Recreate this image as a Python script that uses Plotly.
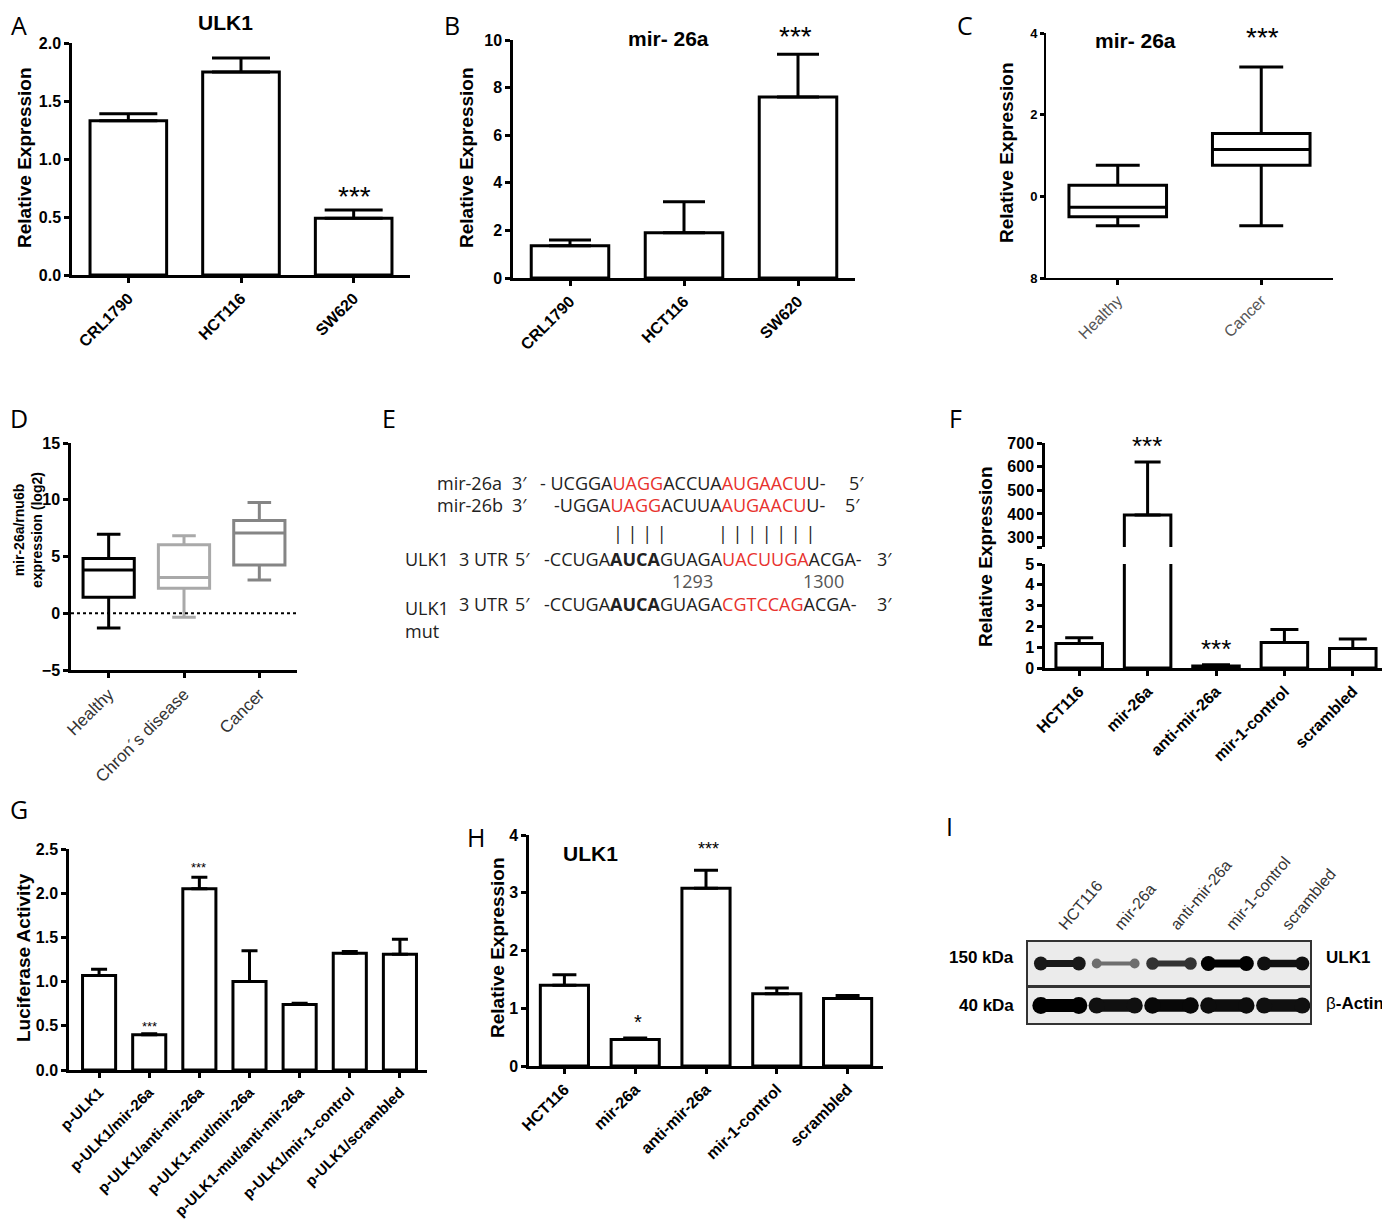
import plotly.graph_objects as go

W, H = 1390, 1228
OFF = 8  # page body margin around the figure

# A: ULK1 in cell lines
a_cats = ["CRL1790", "HCT116", "SW620"]
a_vals = [1.33, 1.75, 0.49]
a_err = [0.06, 0.12, 0.07]

# B: mir-26a in cell lines
b_cats = ["CRL1790", "HCT116", "SW620"]
b_vals = [1.35, 1.9, 7.6]
b_err = [0.25, 1.3, 1.8]

# C: mir-26a, healthy vs cancer (box)
c_groups = ["Healthy", "Cancer"]
c_low = [-0.72, -0.72]
c_q1 = [-0.5, 0.76]
c_med = [-0.27, 1.15]
c_q3 = [0.27, 1.54]
c_high = [0.76, 3.17]

# D: mir-26a/rnu6b (log2)
d_groups = ["Healthy", "Chron´s disease", "Cancer"]
d_low = [-1.3, -0.35, 2.94]
d_q1 = [1.4, 2.2, 4.26]
d_med = [3.82, 3.15, 7.06]
d_q3 = [4.82, 6.03, 8.18]
d_high = [6.97, 6.82, 9.76]
d_colors = ["#000000", "#a9a9a9", "#858585"]

# F: mir-26a expression after transfection
f_cats = ["HCT116", "mir-26a", "anti-mir-26a", "mir-1-control", "scrambled"]
f_vals = [1.18, 395, 0.1, 1.23, 0.94]
f_err = [0.27, 225, 0.06, 0.62, 0.46]

# G: luciferase activity
g_cats = ["p-ULK1", "p-ULK1/mir-26a", "p-ULK1/anti-mir-26a", "p-ULK1-mut/mir-26a",
          "p-ULK1-mut/anti-mir-26a", "p-ULK1/mir-1-control", "p-ULK1/scrambled"]
g_vals = [1.07, 0.40, 2.05, 1.0, 0.74, 1.32, 1.31]
g_err = [0.07, 0.01, 0.13, 0.35, 0.015, 0.02, 0.17]

# H: ULK1 expression after transfection
h_cats = ["HCT116", "mir-26a", "anti-mir-26a", "mir-1-control", "scrambled"]
h_vals = [1.40, 0.46, 3.08, 1.25, 1.17]
h_err = [0.18, 0.025, 0.31, 0.10, 0.05]

# I: western blot band strength per lane
i_lanes = ["HCT116", "mir-26a", "anti-mir-26a", "mir-1-control", "scrambled"]
i_ulk1 = [0.85, 0.35, 0.7, 1.0, 0.9]
i_actin = [1.0, 0.9, 0.95, 0.92, 0.9]

RED = "#e8322e"


def xdom(a, b):
    return [(a - OFF) / W, (b - OFF) / W]


def ydom(top, bot):
    return [1 - (bot - OFF) / H, 1 - (top - OFF) / H]


def note(x, y, text, size=14, bold=False, color="black", family=None, angle=0,
         xanchor="center", yanchor="middle"):
    f = dict(size=size, color=color)
    if bold:
        f["weight"] = "bold"
    if family:
        f["family"] = family
    return dict(x=(x - OFF) / W, y=1 - (y - OFF) / H, xref="paper", yref="paper",
                text=text, showarrow=False, font=f, textangle=angle,
                xanchor=xanchor, yanchor=yanchor)


BOLD = dict(size=16, weight="bold", color="black")


def ax(domain, anchor, **kw):
    d = dict(domain=domain, anchor=anchor, showline=True, linecolor="black",
             linewidth=2.5, ticks="outside", ticklen=5, tickwidth=2.5,
             tickcolor="black", showgrid=False, zeroline=False, automargin=False,
             tickfont=BOLD, fixedrange=True)
    d.update(kw)
    return d


def bars(cats, vals, err, n, cap, width=0.68):
    return go.Bar(x=cats, y=vals, xaxis="x" + n, yaxis="y" + n, width=width,
                  marker=dict(color="white", line=dict(color="black", width=3)),
                  error_y=dict(type="data", symmetric=False, array=err,
                               arrayminus=[0] * len(err), color="black",
                               thickness=3, width=cap),
                  showlegend=False)


fig = go.Figure()
fig.add_trace(bars(a_cats, a_vals, a_err, "", 29))
fig.add_trace(bars(b_cats, b_vals, b_err, "2", 21))

fig.add_trace(go.Box(x=c_groups, q1=c_q1, median=c_med, q3=c_q3,
                     lowerfence=c_low, upperfence=c_high, xaxis="x3", yaxis="y3",
                     width=0.68, whiskerwidth=0.45, fillcolor="white",
                     line=dict(color="black", width=3), boxpoints=False,
                     showlegend=False))

for grp, lo, q1, med, q3, hi, col in zip(d_groups, d_low, d_q1, d_med, d_q3, d_high, d_colors):
    fig.add_trace(go.Box(x=[grp], q1=[q1], median=[med], q3=[q3],
                         lowerfence=[lo], upperfence=[hi], xaxis="x4", yaxis="y4",
                         width=0.68, whiskerwidth=0.46, fillcolor="white",
                         line=dict(color=col, width=3), boxpoints=False,
                         showlegend=False))

# broken axis: same bars drawn in both segments
fig.add_trace(bars(f_cats, f_vals, f_err, "5", 13))
fig.add_trace(bars(f_cats, f_vals, f_err, "6", 14))

fig.add_trace(bars(g_cats, g_vals, g_err, "7", 8, width=0.66))
fig.add_trace(bars(h_cats, h_vals, h_err, "8", 12))


def band_color(v):
    g = int(170 * (1 - v))
    return f"rgb({g},{g},{g})"


for row, (vals, n) in enumerate([(i_ulk1, "9"), (i_actin, "10")]):
    for i, v in enumerate(vals):
        fig.add_trace(go.Scatter(x=[i - 0.34, i + 0.34], y=[0, 0],
                                 xaxis="x" + n, yaxis="y" + n, mode="lines+markers",
                                 line=dict(color=band_color(v), width=2 + 6 * v + 5 * row),
                                 marker=dict(color=band_color(v), size=7 + 8 * v + 2 * row),
                                 hoverinfo="skip", showlegend=False))

layout = dict(
    width=W, height=H, margin=dict(l=0, r=0, t=0, b=0),
    paper_bgcolor="white", plot_bgcolor="white", showlegend=False,
    font=dict(family="Liberation Sans, Arial, sans-serif", color="black"),
)

layout["xaxis"] = ax(xdom(72, 410), "y", type="category", range=[-0.5, 2.5], tickangle=-45)
layout["yaxis"] = ax(ydom(43, 275), "x", range=[0, 2.0], dtick=0.5, tickformat=".1f")

layout["xaxis2"] = ax(xdom(513, 855), "y2", type="category", range=[-0.5, 2.5], tickangle=-45)
layout["yaxis2"] = ax(ydom(40, 278), "x2", range=[0, 10], dtick=2)

layout["xaxis3"] = ax(xdom(1046, 1333), "y3", type="category", range=[-0.5, 1.5],
                      tickangle=-45, linewidth=2, tickfont=dict(size=16, color="#555"))
layout["yaxis3"] = ax(ydom(33, 278), "x3", range=[-2, 4], tickvals=[-2, 0, 2, 4],
                      ticktext=["8", "0", "2", "4"], linewidth=2, ticklen=4,
                      tickfont=dict(size=13, weight="bold", color="black"))

layout["xaxis4"] = ax(xdom(71, 297), "y4", type="category", range=[-0.5, 2.5],
                      tickangle=-45, tickfont=dict(size=17, color="#333"))
layout["yaxis4"] = ax(ydom(443, 670), "x4", range=[-5, 15], dtick=5)

layout["xaxis5"] = ax(xdom(1045, 1387), "y5", type="category", range=[-0.5, 4.5],
                      showline=False, ticks="", showticklabels=False)
layout["yaxis5"] = ax(ydom(443, 547), "x5", range=[260, 700],
                      tickvals=[260, 300, 400, 500, 600, 700],
                      ticktext=["", "300", "400", "500", "600", "700"])
layout["xaxis6"] = ax(xdom(1045, 1387), "y6", type="category", range=[-0.5, 4.5], tickangle=-45)
layout["yaxis6"] = ax(ydom(564, 668), "x6", range=[0, 5], dtick=1)

layout["xaxis7"] = ax(xdom(69, 427), "y7", type="category", range=[-0.6, 6.54], tickangle=-45,
                      tickfont=dict(size=15, weight="bold", color="black"))
layout["yaxis7"] = ax(ydom(849, 1070), "x7", range=[0, 2.5], dtick=0.5, tickformat=".1f")

layout["xaxis8"] = ax(xdom(529, 883), "y8", type="category", range=[-0.5, 4.5], tickangle=-45)
layout["yaxis8"] = ax(ydom(835, 1066), "x8", range=[0, 4], dtick=1)

blot = dict(ticks="", linewidth=1.5, linecolor="#333", mirror=True, range=[-0.57, 4.48])
layout["xaxis9"] = ax(xdom(1028, 1310), "y9", side="top", tickvals=list(range(len(i_lanes))),
                      ticktext=i_lanes, tickangle=-50,
                      tickfont=dict(size=16, color="#333"), **blot)
layout["yaxis9"] = ax(ydom(942, 985), "x9", range=[-1, 1], showticklabels=False,
                      ticks="", linewidth=1.5, linecolor="#333", mirror=True)
layout["xaxis10"] = ax(xdom(1028, 1310), "y10", showticklabels=False, **blot)
layout["yaxis10"] = ax(ydom(988, 1023), "x10", range=[-1, 1], showticklabels=False,
                       ticks="", linewidth=1.5, linecolor="#333", mirror=True)

layout["shapes"] = [
    dict(type="line", xref="x4 domain", yref="y4", x0=0, x1=1, y0=0, y1=0,
         line=dict(color="black", width=2, dash="dot")),
    dict(type="rect", xref="x9 domain", yref="y9 domain", x0=0, x1=1, y0=0, y1=1,
         fillcolor="#ebebeb", line_width=0, layer="below"),
    dict(type="rect", xref="x10 domain", yref="y10 domain", x0=0, x1=1, y0=0, y1=1,
         fillcolor="#ebebeb", line_width=0, layer="below"),
]

LETTER = "Open Sans, sans-serif"
anns = []
for letter, x, y in [("A", 19, 25), ("B", 452, 25), ("C", 965, 25), ("D", 19, 418),
                     ("E", 389, 418), ("F", 955, 418), ("G", 19, 809), ("H", 476, 837),
                     ("I", 949, 826)]:
    anns.append(note(x, y, letter, size=25, family=LETTER))

# titles
anns.append(note(225, 22, "ULK1", size=21, bold=True))
anns.append(note(668, 38, "mir- 26a", size=21, bold=True))
anns.append(note(1135, 40, "mir- 26a", size=21, bold=True))
anns.append(note(590, 853, "ULK1", size=21, bold=True))

# y titles
anns.append(note(24, 158, "Relative Expression", size=19, bold=True, angle=-90))
anns.append(note(466, 158, "Relative Expression", size=19, bold=True, angle=-90))
anns.append(note(1007, 153, "Relative Expression", size=19, bold=True, angle=-90))
anns.append(note(28, 530, "mir-26a/rnu6b<br>expression (log2)", size=14, bold=True, angle=-90))
anns.append(note(985, 557, "Relative Expression", size=19, bold=True, angle=-90))
anns.append(note(23, 958, "Luciferase Activity", size=19, bold=True, angle=-90))
anns.append(note(497, 948, "Relative Expression", size=19, bold=True, angle=-90))

# significance stars
anns.append(note(354, 197, "***", size=28))
anns.append(note(795, 36, "***", size=28))
anns.append(note(1262, 37, "***", size=28))
anns.append(note(1147, 446, "***", size=26))
anns.append(note(1216, 649, "***", size=26))
anns.append(note(149, 1026, "***", size=13))
anns.append(note(199, 867, "***", size=13))
anns.append(note(638, 1022, "*", size=20))
anns.append(note(708, 849, "***", size=18))

# E: sequence alignment
SEQ = "Open Sans, sans-serif"
r = lambda s: f"<span style='color:{RED}'>{s}</span>"
seq_kw = dict(size=18, family=SEQ, color="#222", xanchor="left")
anns.append(note(435, 483, "mir-26a", **seq_kw))
anns.append(note(510, 483, "3′", **seq_kw))
anns.append(note(538, 483, "- UCGGA" + r("UAGG") + "ACCUA" + r("AUGAACU") + "U-", **seq_kw))
anns.append(note(847, 483, "5′", **seq_kw))
anns.append(note(435, 505, "mir-26b", **seq_kw))
anns.append(note(510, 505, "3′", **seq_kw))
anns.append(note(552, 505, "-UGGA" + r("UAGG") + "ACUUA" + r("AUGAACU") + "U-", **seq_kw))
anns.append(note(843, 505, "5′", **seq_kw))
pipes = "&nbsp;".join
anns.append(note(611, 533, pipes(["|"] * 4), **seq_kw))
anns.append(note(716, 533, pipes(["|"] * 7), **seq_kw))
anns.append(note(403, 559, "ULK1", **seq_kw))
anns.append(dict(note(403, 594, "ULK1<br>mut", **seq_kw), yanchor="top", align="left"))
for yy in (559, 604):
    anns.append(note(457, yy, "3 UTR", **seq_kw))
    anns.append(note(513, yy, "5′", **seq_kw))
    anns.append(note(875, yy, "3′", **seq_kw))
anns.append(note(542, 559, "-CCUGA<b>AUCA</b>GUAGA" + r("UACUUGA") + "ACGA-", **seq_kw))
anns.append(note(542, 604, "-CCUGA<b>AUCA</b>GUAGA" + r("CGTCCAG") + "ACGA-", **seq_kw))
anns.append(note(692, 581, "1293", size=18, family=SEQ, color="#555"))
anns.append(note(823, 581, "1300", size=18, family=SEQ, color="#555"))

# I: blot labels
anns.append(note(1016, 957, "150 kDa", size=17, bold=True, xanchor="right"))
anns.append(note(1016, 1005, "40 kDa", size=17, bold=True, xanchor="right"))
anns.append(note(1324, 957, "ULK1", size=17, bold=True, xanchor="left"))
anns.append(note(1324, 1003, "β<b>-Actin</b>", size=17, xanchor="left"))

layout["annotations"] = anns
fig.update_layout(**layout)

fig.write_html("out.html", config={"displayModeBar": False})
